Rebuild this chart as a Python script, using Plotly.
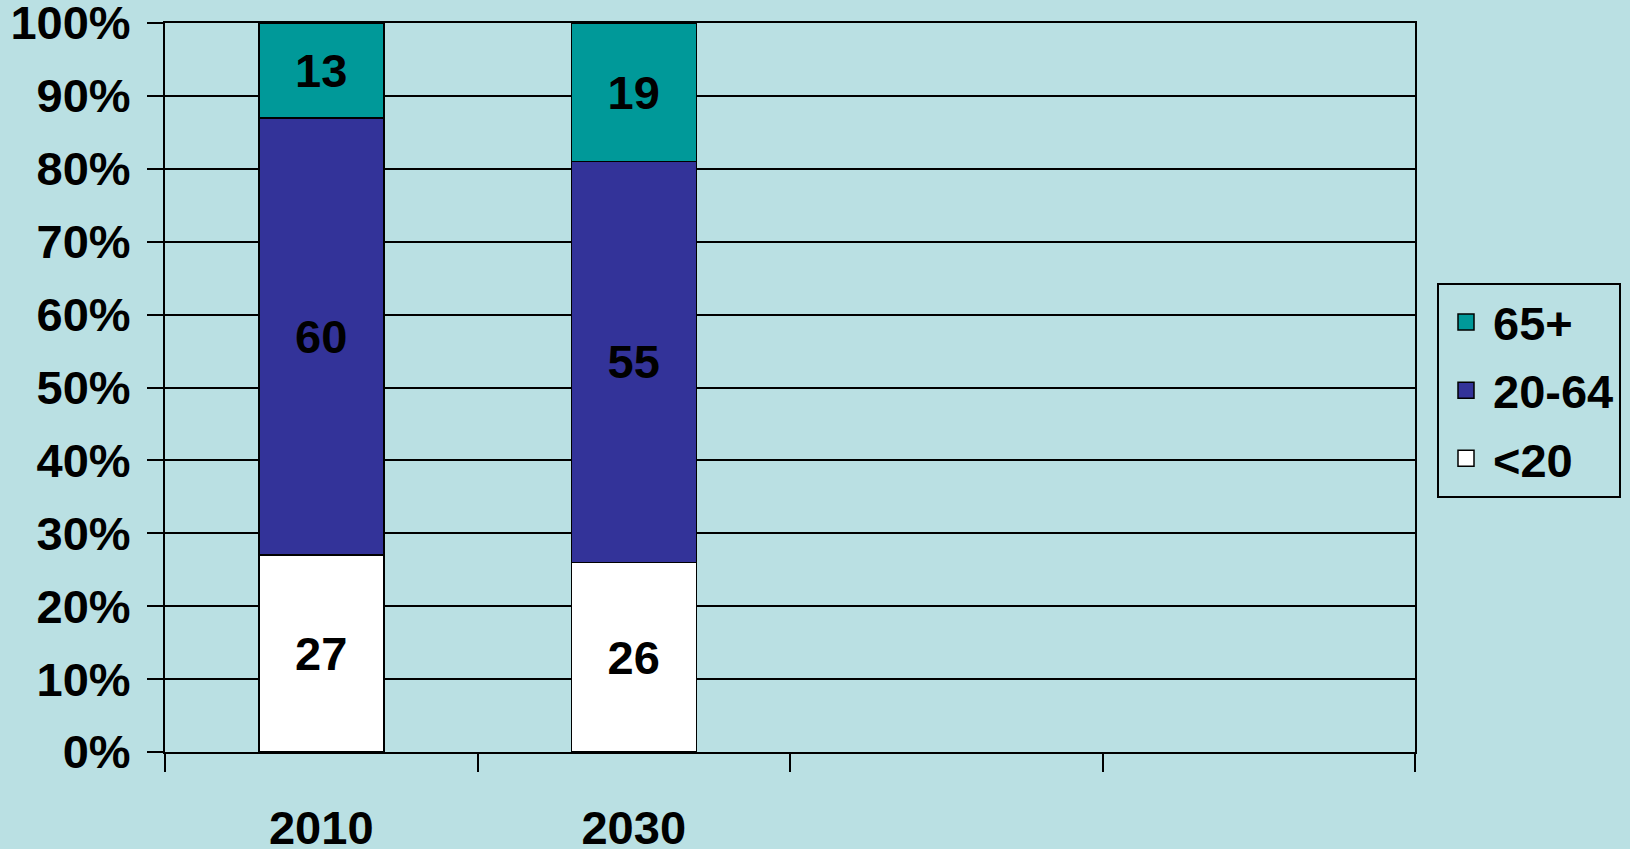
import plotly.graph_objects as go

categories = ["2010", "2030", " ", "  "]
under20 = [27, 26, None, None]
age20_64 = [60, 55, None, None]
over65 = [13, 19, None, None]
series_names = ["<20", "20-64", "65+"]
series_colors = ["#FFFFFF", "#333399", "#009999"]

BG = "#BAE0E3"
FONT = "Liberation Sans, Arial, sans-serif"
FS = 47

fig = go.Figure()
for name, vals, color in zip(series_names, [under20, age20_64, over65], series_colors):
    fig.add_trace(go.Bar(
        x=categories, y=vals, name=name, showlegend=False,
        marker=dict(color=color, line=dict(color="black", width=1.5)),
        text=[str(v) if v is not None else "" for v in vals],
        texttemplate="<b>%{text}</b>",
        textposition="inside", insidetextanchor="middle",
        constraintext="none", textangle=0,
        textfont=dict(size=FS, color="black", family=FONT),
        hoverinfo="skip",
    ))
# legend entries (square swatches), top to bottom: 65+, 20-64, <20
for name, color in zip(series_names[::-1], series_colors[::-1]):
    fig.add_trace(go.Scatter(
        x=[None], y=[None], mode="markers", name=name, legendgroup=name,
        marker=dict(symbol="square", size=30, color=color,
                    line=dict(color="black", width=1.5)),
        hoverinfo="skip",
    ))

fig.update_layout(
    barmode="stack", barnorm="percent", bargap=0.6,
    width=1630, height=849, autosize=False,
    paper_bgcolor=BG, plot_bgcolor=BG,
    margin=dict(l=165, r=215, t=23, b=97, autoexpand=False),
    font=dict(family=FONT, size=FS, color="black"),
    legend=dict(
        traceorder="grouped", tracegroupgap=4,
        x=1437 / 1630, xanchor="left", xref="container",
        y=(849 - 283) / 849, yanchor="top", yref="container",
        bgcolor=BG, bordercolor="black", borderwidth=2,
        font=dict(size=FS, family=FONT, color="black", weight="bold"),
        itemsizing="trace", itemwidth=44,
    ),
    showlegend=True,
)
fig.update_xaxes(
    type="category", categoryorder="array", categoryarray=categories,
    range=[-0.5, 3.5],
    tickson="boundaries", ticks="outside", ticklen=18, tickwidth=2, tickcolor="black",
    showline=True, linecolor="black", linewidth=2, mirror=True,
    showgrid=False,
    tickfont=dict(size=FS, family=FONT, color="black", weight="bold"),
    ticklabelstandoff=34, automargin=False, ticklabeloverflow="allow",
)
fig.update_yaxes(
    range=[0, 100], tickvals=list(range(0, 101, 10)),
    ticktext=[f"{v}%" for v in range(0, 101, 10)],
    ticks="outside", ticklen=16, tickwidth=2, tickcolor="black",
    showline=True, linecolor="black", linewidth=2, mirror=True,
    showgrid=True, gridcolor="black", gridwidth=1.5,
    tickfont=dict(size=FS, family=FONT, color="black", weight="bold"),
    zeroline=False, automargin=False, ticklabeloverflow="allow",
    ticklabelstandoff=7,
)
fig.write_html("out.html", config={"displayModeBar": False},
               post_script="document.body.style.margin='0';")
